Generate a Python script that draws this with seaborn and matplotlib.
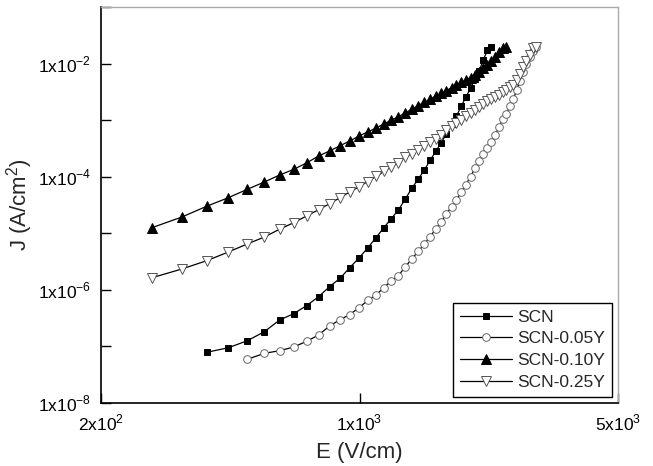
import matplotlib

matplotlib.use("Agg")
import matplotlib.pyplot as plt
import matplotlib.ticker as ticker
import pandas as pd
import seaborn as sns

sns.set_theme(style="ticks")
plt.rcParams["font.family"] = ["Liberation Sans", "DejaVu Sans"]
plt.rcParams["mathtext.fontset"] = "custom"
plt.rcParams["mathtext.rm"] = "Liberation Sans"

# field values (V/cm), shared by all samples
field = [275, 331, 386, 442, 497, 553, 608, 664, 719, 775,
         830, 886, 941, 997, 1052, 1108, 1163, 1219, 1274, 1330,
         1385, 1441, 1496, 1552, 1607, 1663, 1718, 1774, 1829, 1885,
         1940, 1996, 2051, 2107, 2162, 2218, 2273, 2329, 2384, 2440,
         2495, 2551, 2606, 2662, 2717, 2773, 2828, 2884, 2939, 2995]

# current density (A/cm^2)
j_scn = [7.87e-8, 9.48e-8, 1.26e-7, 1.82e-7, 2.93e-7, 3.79e-7, 5.25e-7, 7.57e-7, 1.14e-6, 1.60e-6,
         2.47e-6, 3.66e-6, 5.50e-6, 8.36e-6, 1.25e-5, 1.82e-5, 2.58e-5, 4.04e-5, 6.24e-5, 9.00e-5,
         1.31e-4, 1.94e-4, 2.81e-4, 3.99e-4, 5.75e-4, 8.55e-4, 1.18e-3, 1.78e-3, 2.56e-3, 3.65e-3,
         5.27e-3, 7.48e-3, 1.16e-2, 1.74e-2, 2.0e-2]
j_005y = [5.92e-8, 7.55e-8, 8.40e-8, 9.77e-8, 1.23e-7, 1.59e-7, 2.30e-7, 2.97e-7, 3.66e-7, 4.83e-7,
          6.49e-7, 8.11e-7, 1.09e-6, 1.45e-6, 1.78e-6, 2.56e-6, 3.51e-6, 4.80e-6, 6.41e-6, 8.77e-6,
          1.18e-5, 1.60e-5, 2.22e-5, 2.95e-5, 3.87e-5, 5.37e-5, 7.28e-5, 1.00e-4, 1.40e-4, 1.86e-4,
          2.57e-4, 3.28e-4, 4.19e-4, 5.57e-4, 7.57e-4, 1.03e-3, 1.28e-3, 1.78e-3, 2.37e-3, 3.41e-3,
          4.82e-3, 7.10e-3, 9.82e-3, 1.31e-2, 1.67e-2, 2.0e-2]
j_010y = [1.26e-5, 1.94e-5, 3.00e-5, 4.26e-5, 5.98e-5, 8.07e-5, 1.07e-4, 1.35e-4, 1.75e-4, 2.32e-4,
          2.85e-4, 3.53e-4, 4.28e-4, 5.25e-4, 6.17e-4, 7.26e-4, 8.55e-4, 1.00e-3, 1.15e-3, 1.34e-3,
          1.56e-3, 1.80e-3, 2.07e-3, 2.33e-3, 2.67e-3, 2.98e-3, 3.34e-3, 3.74e-3, 4.18e-3, 4.63e-3,
          5.13e-3, 5.67e-3, 6.28e-3, 7.18e-3, 8.24e-3, 9.44e-3, 1.11e-2, 1.33e-2, 1.60e-2, 1.92e-2,
          2.0e-2]
j_025y = [1.64e-6, 2.34e-6, 3.27e-6, 4.67e-6, 6.46e-6, 8.59e-6, 1.18e-5, 1.54e-5, 2.02e-5, 2.61e-5,
          3.33e-5, 4.26e-5, 5.37e-5, 6.65e-5, 8.22e-5, 1.01e-4, 1.24e-4, 1.49e-4, 1.78e-4, 2.19e-4,
          2.57e-4, 2.97e-4, 3.49e-4, 4.03e-4, 4.73e-4, 5.57e-4, 6.56e-4, 7.73e-4, 8.89e-4, 1.00e-3,
          1.16e-3, 1.34e-3, 1.51e-3, 1.71e-3, 1.93e-3, 2.18e-3, 2.37e-3, 2.56e-3, 2.78e-3, 3.08e-3,
          3.41e-3, 3.78e-3, 4.18e-3, 5.13e-3, 6.54e-3, 8.53e-3, 1.11e-2, 1.42e-2, 1.88e-2, 2.0e-2]

samples = ["SCN", "SCN-0.05Y", "SCN-0.10Y", "SCN-0.25Y"]
first_point = [2, 4, 0, 0]  # index in field where each sample starts

x_ticks = [200, 1000, 5000]
x_labels = [r"2x10$^{2}$", r"1x10$^{3}$", r"5x10$^{3}$"]
y_ticks = [1e-8, 1e-7, 1e-6, 1e-5, 1e-4, 1e-3, 1e-2, 1e-1]
y_labels = [r"1x10$^{-8}$", "", r"1x10$^{-6}$", "", r"1x10$^{-4}$", "", r"1x10$^{-2}$", ""]

frames = []
for name, start, vals in zip(samples, first_point, [j_scn, j_005y, j_010y, j_025y]):
    frames.append(pd.DataFrame({"E": field[start:start + len(vals)], "J": vals, "sample": name}))
data = pd.concat(frames, ignore_index=True)

styles = {
    "SCN": dict(marker="s", markersize=4.5, markerfacecolor="black", markeredgecolor="black"),
    "SCN-0.05Y": dict(marker="o", markersize=5.5, markerfacecolor="white", markeredgecolor="#666666"),
    "SCN-0.10Y": dict(marker="^", markersize=6.5, markerfacecolor="black", markeredgecolor="black"),
    "SCN-0.25Y": dict(marker="v", markersize=6.5, markerfacecolor="white", markeredgecolor="#555555"),
}

fig = plt.figure(figsize=(6.53, 4.66), dpi=100)
ax = fig.add_axes([0.1547, 0.1352, 0.7917, 0.8498])

for name in samples:
    sub = data[data["sample"] == name]
    sns.lineplot(x="E", y="J", data=sub, ax=ax, color="black", linewidth=0.9,
                 markeredgewidth=0.7, label=name, estimator=None, sort=False, **styles[name])

ax.set_xscale("log")
ax.set_yscale("log")
ax.set_xlim(200, 5000)
ax.set_ylim(1e-8, 1e-1)
ax.set_xticks(x_ticks, labels=x_labels)
ax.set_yticks(y_ticks, labels=y_labels)
ax.xaxis.set_minor_locator(ticker.NullLocator())
ax.yaxis.set_minor_locator(ticker.NullLocator())
ax.tick_params(direction="in", length=7, width=1, labelsize=12.5, colors="black", pad=7)

ax.set_xlabel("E (V/cm)", fontsize=16, labelpad=6)
ax.set_ylabel(r"J (A/cm$^{2}$)", fontsize=16, labelpad=2)

for side in ["left", "bottom"]:
    ax.spines[side].set_color("black")
    ax.spines[side].set_linewidth(1.2)
for side in ["top", "right"]:
    ax.spines[side].set_color("#aaaaaa")
    ax.spines[side].set_linewidth(1.0)

leg = ax.legend(loc="lower right", frameon=True, fancybox=False, edgecolor="black",
                framealpha=1, fontsize=12.5, handlelength=3.0, borderaxespad=0.35,
                labelspacing=0.38, handletextpad=0.3, borderpad=0.4)
leg.get_frame().set_linewidth(1.0)

fig.savefig("out.png", dpi=100, facecolor="w", edgecolor="w")
plt.close()
